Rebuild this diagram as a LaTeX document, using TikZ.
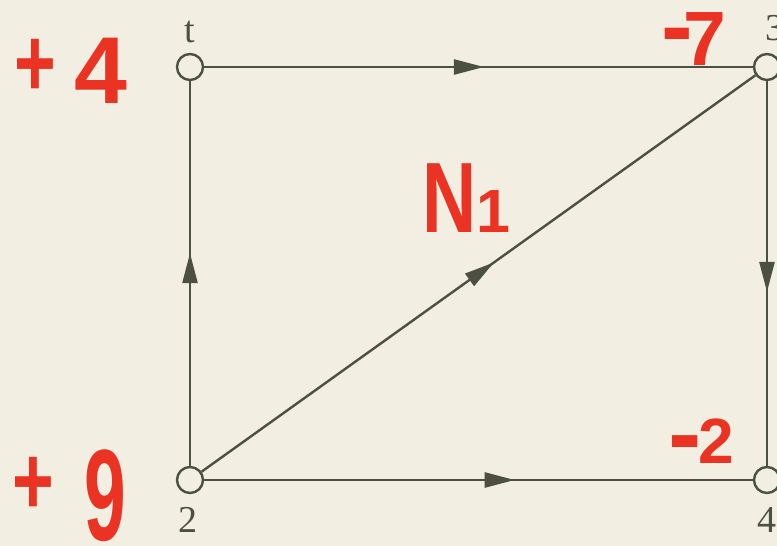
\documentclass[tikz,border=0pt]{standalone}
\usepackage{graphicx}
\usepackage{fontspec}
\setmainfont{Liberation Serif}
\newfontfamily\handfont{Liberation Sans}
\usetikzlibrary{arrows.meta,decorations.markings}
\definecolor{paper}{HTML}{F3EEE2}
\definecolor{ink}{HTML}{4B5043}
\definecolor{marker}{HTML}{EB3323}
\newcommand\fs[1]{\fontsize{#1}{#1}\selectfont}
\begin{document}
\begin{tikzpicture}[x=1pt,y=-1pt,
  vert/.style={circle,draw=ink,line width=2.4pt,fill=paper,minimum size=26pt,inner sep=0pt},
  edge/.style={draw=ink,line width=2.4pt},
  midarrow/.style={postaction={decorate},decoration={markings,mark=at position #1 with {\arrow[ink]{Triangle[length=30pt,width=15pt]}}}},
  lab/.style={text=ink,font=\fs{38},inner sep=0pt},
  hand/.style={text=marker,font=\handfont\bfseries,inner sep=0pt}]
\fill[paper] (0,0) rectangle (777,546);
\useasboundingbox (0,0) rectangle (777,546);
% vertices
\node[vert] (t) at (190,67) {};
\node[vert] (n3) at (767,67) {};
\node[vert] (n2) at (190,480) {};
\node[vert] (n4) at (767,480) {};
% edges
\draw[edge,midarrow=0.51] (t) -- (n3);
\draw[edge,midarrow=0.553] (n2) -- (t);
\draw[edge,midarrow=0.548] (n3) -- (n4);
\draw[edge,midarrow=0.566] (n2) -- (n4);
\draw[edge,midarrow=0.528] (n2) -- (n3);
% printed labels
\node[lab,anchor=base] (lt) at (190,42) {t};
\node[lab,anchor=base] (l3) at (775,40) {3};
\node[lab,anchor=base] (l2) at (188,532) {2};
\node[lab,anchor=base] (l4) at (767,532) {4};
% handwritten labels
\node[hand,anchor=base west] (h1) at (14,103) {\raisebox{7pt}{\scalebox{1.1}[1.5]{\fs{65}+}}\hspace{19pt}\fs{95}4};
\node[hand,anchor=base west] (h2) at (661,65) {\raisebox{7pt}{\fs{95}-}\hspace{-9pt}\fs{77}7};
\node[hand,anchor=base west] (h3) at (422,232) {\scalebox{0.75}[1]{\fs{100}N}\hspace{0pt}\fs{61}1};
\node[hand,anchor=base west] (h4) at (668,463) {\raisebox{-4pt}{\fs{100}-}\hspace{-3pt}\fs{64}2};
\node[hand,anchor=base west] (h5) at (12,540) {\raisebox{26pt}{\scalebox{1.1}[1.5]{\fs{65}+}}\hspace{31pt}\scalebox{0.75}[1.3]{\fs{100}9}};
\end{tikzpicture}
\end{document}
